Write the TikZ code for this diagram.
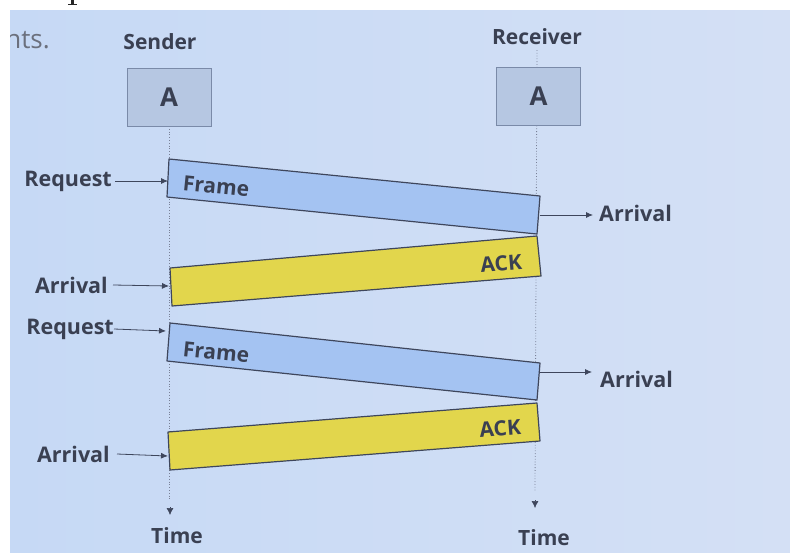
\documentclass[tikz,border=0pt]{standalone}
\usepackage{fontspec}
\setmainfont{Open Sans}
\usetikzlibrary{arrows.meta}
\definecolor{slideL}{RGB}{198,217,245}
\definecolor{slideR}{RGB}{212,224,245}
\definecolor{ink}{RGB}{58,64,82}
\definecolor{edge}{RGB}{62,70,92}
\definecolor{boxfill}{RGB}{182,199,226}
\definecolor{boxedge}{RGB}{122,138,168}
\definecolor{framefill}{RGB}{164,195,242}
\definecolor{ackfill}{RGB}{226,214,76}
\definecolor{lifeline}{RGB}{120,128,150}
\tikzset{
  lbl/.style={font=\bfseries\fontsize{21.5}{24}\selectfont, text=ink, inner sep=0pt},
  entity/.style={draw=boxedge, line width=1pt, fill=boxfill, minimum width=84pt,
    minimum height=58pt, font=\bfseries\fontsize{26}{30}\selectfont, text=ink},
  msg/.style={draw=edge, line width=1.2pt, line join=round},
  tick/.style={-{Latex[length=7pt,width=6pt]}, draw=edge, line width=0.8pt},
  life/.style={draw=lifeline, line width=0.8pt, dotted},
  timetip/.style={-{Latex[length=7pt,width=7pt]}, draw=edge, line width=0.6pt},
  inbox/.style={lbl, font=\bfseries\fontsize{21}{24}\selectfont},
}
\begin{document}
\begin{tikzpicture}[x=1pt,y=-1pt]
\useasboundingbox (0,0) rectangle (790,552);
\fill[white] (0,0) rectangle (790,552);
% slide background
\shade[left color=slideL, right color=slideR] (10,10) rectangle (790,552);
% descender of a letter from the line above the slide
\fill[black!85] (71,0) rectangle (73.5,4.5);
\fill[black!85] (67.5,3.6) rectangle (77,5);

% headings
\begin{scope}
  \clip (10,10) rectangle (790,552);
  \node[lbl, font=\fontsize{26}{30}\selectfont, anchor=base east, text=ink!75] (nts) at (50,48) {nts.};
\end{scope}
\node[lbl, font=\bfseries\fontsize{21}{24}\selectfont] (sender) at (160,42) {Sender};
\node[lbl, font=\bfseries\fontsize{21}{24}\selectfont] (receiver) at (537,37) {Receiver};

% life lines
\coordinate (sTop) at (169,126);
\coordinate (sEnd) at (169,499);
\coordinate (rTop) at (537,50);
\coordinate (rEnd) at (535,492);
\draw[life] (sTop) -- (sEnd);
\draw[life] (rTop) -- (rEnd);
\coordinate (sTip) at (170,515);
\coordinate (rTip) at (535,508);
\draw[timetip] ([yshift=8pt]sTip) -- (sTip);
\draw[timetip] ([yshift=8pt]rTip) -- (rTip);

% entities
\node[entity] (sA) at (169,97.5) {A};
\node[entity] (rA) at (538.5,96.5) {A};

% first frame and its acknowledgement
\coordinate (f1a) at (169,159);
\coordinate (f1b) at (540,196);
\coordinate (f1c) at (537,234);
\coordinate (f1d) at (167,197);
\draw[msg, fill=framefill] (f1a) -- (f1b) -- (f1c) -- (f1d) -- cycle;
\node[inbox, rotate=-5.8, anchor=west] (frame1) at (183,183) {Frame};

\coordinate (k1a) at (170,268);
\coordinate (k1b) at (537,236);
\coordinate (k1c) at (541,276);
\coordinate (k1d) at (172,306);
\draw[msg, fill=ackfill] (k1a) -- (k1b) -- (k1c) -- (k1d) -- cycle;
\node[inbox, rotate=4.7, anchor=east] (ack1) at (522,262) {ACK};

% second frame and its acknowledgement
\coordinate (f2a) at (170,323);
\coordinate (f2b) at (540,363);
\coordinate (f2c) at (537,400);
\coordinate (f2d) at (167,361);
\draw[msg, fill=framefill] (f2a) -- (f2b) -- (f2c) -- (f2d) -- cycle;
\node[inbox, rotate=-5.8, anchor=west] (frame2) at (183,349) {Frame};

\coordinate (k2a) at (168,432);
\coordinate (k2b) at (537,403);
\coordinate (k2c) at (540,441);
\coordinate (k2d) at (170,470);
\draw[msg, fill=ackfill] (k2a) -- (k2b) -- (k2c) -- (k2d) -- cycle;
\node[inbox, rotate=4.7, anchor=east] (ack2) at (521,427) {ACK};

% event labels
\node[lbl, anchor=east] (req1) at (112,181) {Request};
\coordinate (req1t) at (168,181);
\draw[tick] ([xshift=3pt]req1.east) -- (req1t);

\node[lbl, anchor=east] (arr1) at (108,285) {Arrival};
\coordinate (arr1t) at (169,286);
\draw[tick] ([xshift=5pt]arr1.east) -- (arr1t);

\node[lbl, anchor=east] (req2) at (114,329) {Request};
\coordinate (req2t) at (166,331);
\draw[tick] (req2.east) -- (req2t);

\node[lbl, anchor=east] (arr2) at (110,454) {Arrival};
\coordinate (arr2t) at (168,456);
\draw[tick] ([xshift=7pt]arr2.east) -- (arr2t);

\node[lbl, anchor=west] (arr3) at (599,213) {Arrival};
\coordinate (arr3s) at (540,215);
\draw[tick] (arr3s) -- ([xshift=-6pt]arr3.west |- arr3s);

\node[lbl, anchor=west] (arr4) at (600,379) {Arrival};
\coordinate (arr4s) at (539,372);
\draw[tick] (arr4s) -- ([xshift=-8pt]arr4.west |- arr4s);

% time axes
\node[inbox] (time1) at (177,536) {Time};
\node[inbox] (time2) at (544,538) {Time};
\end{tikzpicture}
\end{document}
